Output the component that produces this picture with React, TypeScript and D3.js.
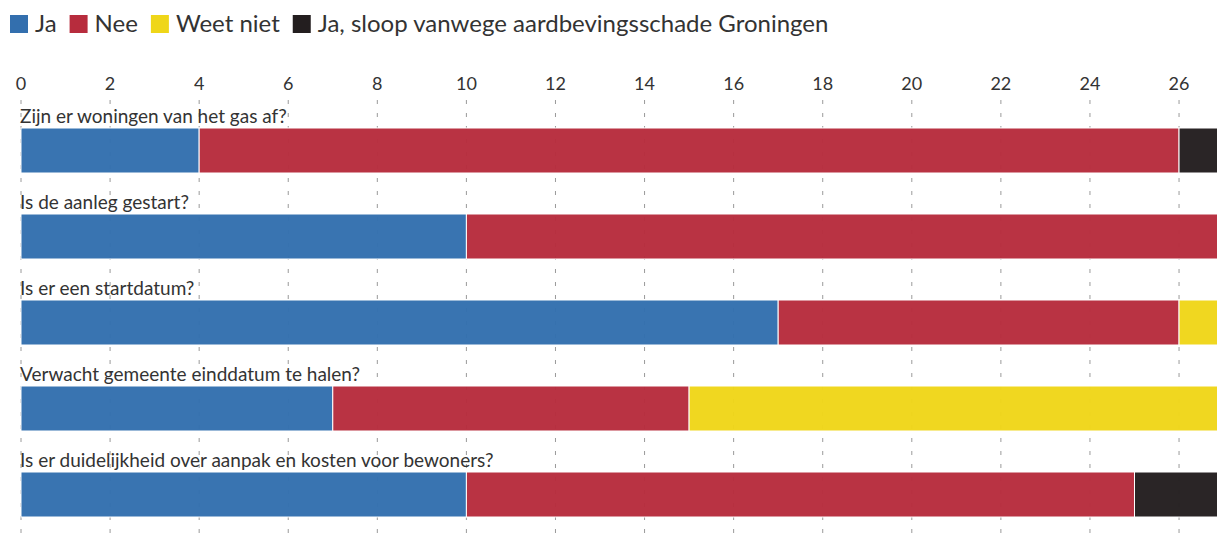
import * as d3 from "d3";
import { useEffect, useRef } from "react";

const categories = [
    "Zijn er woningen van het gas af?",
    "Is de aanleg gestart?",
    "Is er een startdatum?",
    "Verwacht gemeente einddatum te halen?",
    "Is er duidelijkheid over aanpak en kosten voor bewoners?",
];
const seriesNames = ["Ja", "Nee", "Weet niet", "Ja, sloop vanwege aardbevingsschade Groningen"];
const seriesColors = ["#336fae", "#b72c3d", "#efd619", "#231e1f"];
const ja = [4, 10, 17, 7, 10];
const nee = [22, 17, 9, 8, 15];
const weetNiet = [0, 0, 1, 12, 0];
const sloop = [1, 0, 0, 0, 2];
const xTicks = [0, 2, 4, 6, 8, 10, 12, 14, 16, 18, 20, 22, 24, 26];

const svgWidth = 1240;
const svgHeight = 536;
const marginLeft = 21;
const font = "Lato, 'Noto Sans', sans-serif";

export default function App() {
    const svgRef = useRef<SVGSVGElement>(null);

    useEffect(() => {
        if (svgRef.current) {
            drawChart();
        }
    }, [svgRef]);

    const drawChart = () => {
        const svg = d3.select(svgRef.current);
        svg.selectAll("*").remove();

        const rows = categories.map((c, i) => ({
            cat: c,
            values: [ja[i], nee[i], weetNiet[i], sloop[i]],
        }));

        // 27 proeftuinen, so the axis runs to 27 (cut off at the right edge)
        const scaleX = d3.scaleLinear().domain([0, 27]).range([marginLeft, marginLeft + 27 * 44.54]);
        const scaleY = d3.scaleBand().domain(categories).range([104, 104 + 86 * categories.length]);

        drawLegend(svg);

        // tick labels
        svg.append("g")
            .selectAll("text")
            .data(xTicks)
            .join("text")
            .attr("x", (d) => scaleX(d))
            .attr("y", 90)
            .attr("text-anchor", "middle")
            .attr("font-family", font)
            .attr("font-size", 18)
            .attr("fill", "#333")
            .text((d) => `${d}`);

        // dashed grid
        svg.append("g")
            .selectAll("line")
            .data(xTicks)
            .join("line")
            .attr("x1", (d) => scaleX(d))
            .attr("x2", (d) => scaleX(d))
            .attr("y1", 100)
            .attr("y2", svgHeight)
            .attr("stroke", "#9a9a9a")
            .attr("stroke-width", 1)
            .attr("stroke-dasharray", "4,9");

        // bars
        const rowG = svg
            .append("g")
            .selectAll("g")
            .data(rows)
            .join("g")
            .attr("transform", (d) => `translate(0,${scaleY(d.cat)})`);

        rowG.append("text")
            .attr("x", marginLeft - 1)
            .attr("y", 19)
            .attr("font-family", font)
            .attr("font-size", 19)
            .attr("fill", "#333")
            .text((d) => d.cat);

        rowG.each(function (d) {
            let acc = 0;
            const segs = d.values.map((v, k) => {
                const s = { x0: acc, x1: acc + v, k };
                acc += v;
                return s;
            });
            d3.select(this)
                .selectAll("rect")
                .data(segs.filter((s) => s.x1 > s.x0))
                .join("rect")
                .attr("x", (s) => scaleX(s.x0))
                .attr("width", (s) => scaleX(s.x1) - scaleX(s.x0))
                .attr("y", 24)
                .attr("height", 45)
                .attr("fill", (s) => seriesColors[s.k])
                .attr("fill-opacity", 0.97)
                .attr("stroke", "#fff")
                .attr("stroke-width", 1);
        });
    };

    const drawLegend = (svg: any) => {
        const legend = svg.append("g").attr("transform", "translate(10,15)");
        let x = 0;
        seriesNames.forEach((name, i) => {
            const item = legend.append("g").attr("transform", `translate(${x},0)`);
            item.append("rect").attr("width", 18).attr("height", 18).attr("fill", seriesColors[i]);
            const t = item
                .append("text")
                .attr("x", 25)
                .attr("y", 17)
                .attr("font-family", font)
                .attr("font-size", 24)
                .attr("fill", "#333")
                .text(name);
            const w = (t.node() as SVGTextElement).getComputedTextLength();
            x += 25 + w + 13;
        });
    };

    return (
        <div style={{ position: "absolute", left: 0, top: 0, width: "100vw", height: "100vh", overflow: "hidden" }}>
            <svg ref={svgRef} width={svgWidth} height={svgHeight} style={{ display: "block" }} />
        </div>
    );
}
